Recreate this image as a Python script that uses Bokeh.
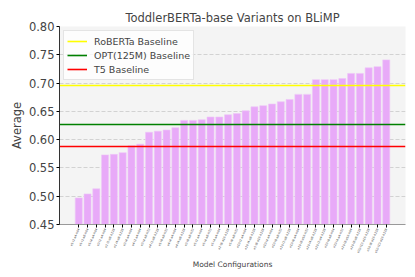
from bokeh.plotting import figure
from bokeh.models import Range1d, FixedTicker, NumeralTickFormatter, ColumnDataSource
from bokeh.embed import file_html
from bokeh.resources import INLINE

configs = ["e1-l2-a4-h64", "e1-l2-a8-h64", "e1-l4-a4-h64", "e2-l2-a4-h64", "e2-l2-a8-h128",
           "e1-l4-a8-h128", "e2-l4-a4-h64", "e4-l2-a4-h64", "e2-l4-a8-h32", "e4-l2-a8-h128",
           "e1-l8-a8-h32", "e4-l4-a4-h64", "e4-l4-a8-h128", "e2-l8-a8-h32", "e5-l2-a4-h64",
           "e5-l4-a8-h32", "e5-l4-a4-h64", "e2-l8-a16-h128", "e5-l8-a8-h32", "e10-l2-a4-h64",
           "e10-l4-a8-h128", "e5-l8-a16-h128", "e10-l4-a4-h64", "e10-l8-a8-h32", "e10-l2-a8-h128",
           "e10-l8-a4-h64", "e10-l8-a16-h32", "e20-l4-a8-h128", "e20-l2-a4-h128", "e20-l8-a8-h64",
           "e20-l4-a4-h32", "e20-l8-a16-h64", "e20-l8-a8-h128", "e20-l12-a16-h128", "e50-l8-a16-h128",
           "e50-l12-a16-h128"]
averages = [0.497, 0.504, 0.513, 0.573, 0.574, 0.577, 0.589, 0.592, 0.613, 0.615, 0.617, 0.621,
            0.634, 0.634, 0.635, 0.640, 0.640, 0.644, 0.646, 0.651, 0.658, 0.660, 0.663, 0.667,
            0.671, 0.680, 0.680, 0.706, 0.706, 0.706, 0.708, 0.717, 0.717, 0.727, 0.729, 0.741]
baseline_names = ["RoBERTa Baseline", "OPT(125M) Baseline", "T5 Baseline"]
baseline_values = [0.695, 0.627, 0.588]
baseline_colors = ["#FFFF00", "#008000", "#FF0000"]
yticks = [0.45, 0.50, 0.55, 0.60, 0.65, 0.70, 0.75, 0.80]

FONT = "DejaVu Sans"
xs = list(range(len(configs)))
n = len(configs)
pad = (n - 1 + 0.8) * 0.05

p = figure(width=415, height=277, output_backend="svg", toolbar_location=None,
           x_range=Range1d(-0.4 - pad, n - 1 + 0.4 + pad), y_range=Range1d(0.45, 0.80),
           min_border_left=59, min_border_right=10, min_border_top=26, min_border_bottom=53)

src = ColumnDataSource(dict(x=xs, top=averages))
p.vbar(x="x", top="top", bottom=0.45, width=0.8, source=src,
       fill_color="#E8AAF8", line_color="#EFC6F9", line_width=0.6)

for name, val, col in zip(baseline_names, baseline_values, baseline_colors):
    p.hspan(y=[val], line_color=col, line_width=1.6, legend_label=name)

p.background_fill_color = "#F4F4F4"
p.border_fill_color = "white"
p.outline_line_color = None

p.title.text = "ToddlerBERTa-base Variants on BLiMP"
p.title.text_font = FONT
p.title.text_font_size = "11.5px"
p.title.text_font_style = "normal"
p.title.align = "center"
p.title.standoff = 4
p.title.offset = 0

p.xgrid.grid_line_color = None
p.ygrid.grid_line_color = "#D2D2D2"
p.ygrid.grid_line_dash = "4 2"
p.ygrid.grid_line_width = 1
p.ygrid.ticker = FixedTicker(ticks=yticks)

p.yaxis.ticker = FixedTicker(ticks=yticks)
p.yaxis.formatter = NumeralTickFormatter(format="0.00")
p.yaxis.axis_label = "Average"
p.yaxis.axis_label_text_font = FONT
p.yaxis.axis_label_text_font_size = "11.5px"
p.yaxis.axis_label_text_font_style = "normal"
p.yaxis.axis_label_standoff = 2
p.yaxis.major_label_text_font = FONT
p.yaxis.major_label_text_font_size = "11.5px"
p.yaxis.major_label_standoff = 2
p.yaxis.major_tick_out = 3
p.yaxis.major_tick_in = 0
p.yaxis.minor_tick_line_color = None
p.yaxis.axis_line_color = "#333333"

p.xaxis.ticker = FixedTicker(ticks=xs)
p.xaxis.major_label_overrides = {i: c for i, c in zip(xs, configs)}
p.xaxis.major_label_orientation = 1.15
p.xaxis.major_label_text_font = FONT
p.xaxis.major_label_text_font_size = "3px"
p.xaxis.major_label_standoff = 1
p.xaxis.major_tick_out = 3
p.xaxis.major_tick_in = 0
p.xaxis.minor_tick_line_color = None
p.xaxis.axis_line_color = "#999999"
p.xaxis.axis_label = "Model Configurations"
p.xaxis.axis_label_text_font = FONT
p.xaxis.axis_label_text_font_size = "7.5px"
p.xaxis.axis_label_text_font_style = "normal"
p.xaxis.axis_label_standoff = 3

p.legend.location = "top_left"
p.legend.margin = 4
p.legend.padding = 3
p.legend.spacing = 0
p.legend.label_text_font = FONT
p.legend.label_text_font_size = "9.5px"
p.legend.label_height = 14
p.legend.glyph_height = 14
p.legend.glyph_width = 20
p.legend.label_standoff = 7
p.legend.background_fill_color = "white"
p.legend.background_fill_alpha = 0.8
p.legend.border_line_color = "#CCCCCC"

open("out.html", "w").write(file_html(p, INLINE))
